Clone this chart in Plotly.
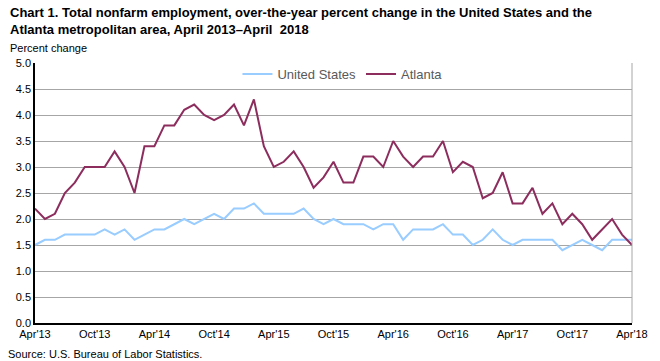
import plotly.graph_objects as go

mon = ["Apr", "May", "Jun", "Jul", "Aug", "Sep", "Oct", "Nov", "Dec", "Jan", "Feb", "Mar"]
months = []
for k in range(61):
    m = mon[k % 12]
    yr = 13 + (k + 3) // 12
    months.append(f"{m}'{yr}")

us = [1.5, 1.6, 1.6, 1.7, 1.7, 1.7, 1.7, 1.8, 1.7, 1.8, 1.6, 1.7,
      1.8, 1.8, 1.9, 2.0, 1.9, 2.0, 2.1, 2.0, 2.2, 2.2, 2.3, 2.1,
      2.1, 2.1, 2.1, 2.2, 2.0, 1.9, 2.0, 1.9, 1.9, 1.9, 1.8, 1.9,
      1.9, 1.6, 1.8, 1.8, 1.8, 1.9, 1.7, 1.7, 1.5, 1.6, 1.8, 1.6,
      1.5, 1.6, 1.6, 1.6, 1.6, 1.4, 1.5, 1.6, 1.5, 1.4, 1.6, 1.6,
      1.6]
atlanta = [2.2, 2.0, 2.1, 2.5, 2.7, 3.0, 3.0, 3.0, 3.3, 3.0, 2.5, 3.4,
           3.4, 3.8, 3.8, 4.1, 4.2, 4.0, 3.9, 4.0, 4.2, 3.8, 4.3, 3.4,
           3.0, 3.1, 3.3, 3.0, 2.6, 2.8, 3.1, 2.7, 2.7, 3.2, 3.2, 3.0,
           3.5, 3.2, 3.0, 3.2, 3.2, 3.5, 2.9, 3.1, 3.0, 2.4, 2.5, 2.9,
           2.3, 2.3, 2.6, 2.1, 2.3, 1.9, 2.1, 1.9, 1.6, 1.8, 2.0, 1.7,
           1.5]
tick_labels = months[::6]
y_ticks = [0.0, 0.5, 1.0, 1.5, 2.0, 2.5, 3.0, 3.5, 4.0, 4.5, 5.0]

FONT = "Liberation Sans, Arial, sans-serif"

fig = go.Figure()
fig.add_trace(go.Scatter(x=months, y=us, mode="lines", name="United States",
                         line=dict(color="#99CCFF", width=2)))
fig.add_trace(go.Scatter(x=months, y=atlanta, mode="lines", name="Atlanta",
                         line=dict(color="#8C2D5E", width=2)))

fig.update_layout(
    width=660, height=361,
    margin=dict(l=34.5, r=25, t=62.7, b=37.7),
    paper_bgcolor="white", plot_bgcolor="white",
    font=dict(family=FONT, size=11, color="black"),
    showlegend=True,
    legend=dict(orientation="h", x=0.515, xanchor="center", y=1.015, yanchor="top",
                bgcolor="rgba(0,0,0,0)", font=dict(size=13, color="#595959"),
                itemwidth=30, tracegroupgap=0),
    xaxis=dict(type="category", range=[0, 60], tickmode="array",
               tickvals=tick_labels, ticktext=tick_labels,
               showgrid=False, showline=True, linecolor="black", linewidth=1.5,
               ticks="", tickfont=dict(size=11, color="black"), zeroline=False,
               tickangle=0),
    yaxis=dict(range=[0, 5], tickvals=y_ticks,
               ticktext=[f"{v:.1f}" for v in y_ticks],
               showgrid=True, gridcolor="#A6A6A6", gridwidth=1,
               showline=True, linecolor="black", linewidth=1.5,
               ticks="", tickfont=dict(size=11, color="black"), zeroline=False),
)

fig.add_shape(type="line", xref="paper", yref="paper", x0=1, x1=1, y0=0, y1=1,
              line=dict(color="#A6A6A6", width=1))

fig.add_annotation(xref="paper", yref="paper", x=-0.046, y=1.0, yshift=60,
                   xanchor="left", yanchor="top", align="left", showarrow=False,
                   text="<b>Chart 1. Total nonfarm employment, over-the-year percent change in the United States and the<br>Atlanta metropolitan area, April 2013\u2013April  2018</b>",
                   font=dict(family=FONT, size=13, color="black"))
fig.add_annotation(xref="paper", yref="paper", x=-0.046, y=1.0, yshift=23,
                   xanchor="left", yanchor="top", showarrow=False,
                   text="Percent change", font=dict(family=FONT, size=11, color="black"))
fig.add_annotation(xref="paper", yref="paper", x=-0.048, y=0, yshift=-23,
                   xanchor="left", yanchor="top", showarrow=False,
                   text="Source: U.S. Bureau of Labor Statistics.",
                   font=dict(family=FONT, size=11, color="black"))

fig.write_html("out.html", config={"displayModeBar": False},
               post_script="document.body.style.margin='0';document.body.style.overflow='hidden';")
